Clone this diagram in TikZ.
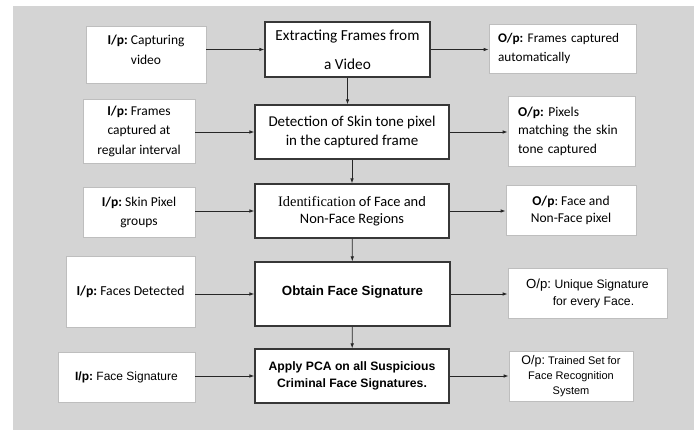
\documentclass[tikz,border=0pt]{standalone}
\usepackage{fontspec}
\setmainfont{Carlito}
\newfontfamily\arialfont{Liberation Sans}
\newfontfamily\timesfont{Liberation Serif}
\usetikzlibrary{arrows.meta}
\frenchspacing

\definecolor{bggray}{RGB}{212,212,212}
\definecolor{boxline}{RGB}{55,55,55}
\definecolor{ioline}{RGB}{190,190,190}

\tikzset{
    mainbox/.style={draw=boxline, line width=1.2pt, fill=white, inner sep=0pt, align=center},
    iobox/.style={draw=ioline, line width=0.8pt, fill=white, inner sep=0pt, align=center},
    arr/.style={-{Latex[length=5pt,width=3.6pt]}, line width=0.8pt, draw=black!85}
}

\begin{document}
\begin{tikzpicture}[x=1pt, y=-1pt]
    % background
    \fill[white] (0,0) rectangle (697,430);
    \fill[bggray] (13,6) rectangle (694,430);

    % Draw the main column
    \node[mainbox, minimum width=165pt, minimum height=55pt, font=\fontsize{15.3}{29}\selectfont] (extract) at (347.5,49.5) {Extracting Frames from\\a Video};
    \node[mainbox, minimum width=194pt, minimum height=54pt, font=\fontsize{15}{18.5}\selectfont] (skin) at (352,132) {Detection of Skin tone pixel\\in the captured frame};
    \node[mainbox, minimum width=194pt, minimum height=54pt, font=\fontsize{14.4}{17}\selectfont] (region) at (352,211) {{\timesfont Identification} of Face and\\Non-Face Regions};
    \node[mainbox, minimum width=195pt, minimum height=64pt, font=\arialfont\bfseries\fontsize{13.3}{15}\selectfont] (sign) at (352.5,294) {Obtain Face Signature\rule[-6pt]{0pt}{0pt}};
    \node[mainbox, minimum width=194pt, minimum height=54pt, font=\arialfont\bfseries\fontsize{12.2}{17}\selectfont] (pca) at (352,376) {Apply PCA on all Suspicious\\Criminal Face Signatures.};

    % Draw the inputs
    \node[iobox, minimum width=120pt, minimum height=57pt, font=\fontsize{13.5}{20}\selectfont] (in1) at (146,54.5) {\textbf{I/p:} Capturing\\video\rule[-10pt]{0pt}{0pt}};
    \node[iobox, minimum width=112pt, minimum height=64pt, font=\fontsize{13.5}{19.5}\selectfont] (in2) at (139,131) {\textbf{I/p:} Frames\\captured at\\regular interval};
    \node[iobox, minimum width=112pt, minimum height=50pt, font=\fontsize{13.5}{19}\selectfont] (in3) at (139,212) {\textbf{I/p:} Skin Pixel\\groups};
    \node[iobox, minimum width=129pt, minimum height=71pt, font=\fontsize{13.7}{15}\selectfont] (in4) at (130.5,291.5) {\textbf{I/p:} Faces Detected};
    \node[iobox, minimum width=137pt, minimum height=50pt, font=\arialfont\fontsize{12}{15}\selectfont] (in5) at (126.5,377) {\textbf{I/p:} Face Signature};

    % Draw the outputs
    \node[iobox, minimum width=147pt, minimum height=49pt, text width=129pt, align=left, font=\fontsize{13.2}{19}\selectfont] (out1) at (562.5,48.5) {\textbf{O/p:} Frames captured\\automatically};
    \node[iobox, minimum width=127pt, minimum height=70pt, text width=107pt, align=left, font=\fontsize{13.5}{18.5}\selectfont] (out2) at (571.5,131) {\textbf{O/p:} Pixels\\matching the skin\\tone captured};
    \node[iobox, minimum width=130pt, minimum height=50pt, font=\fontsize{13.5}{17}\selectfont] (out3) at (571,210) {\textbf{O/p}: Face and\\Non-Face pixel};
    \node[iobox, minimum width=159pt, minimum height=50pt, font=\arialfont\fontsize{12.2}{17}\selectfont] (out4) at (587.5,293) {{\fontsize{13.2}{17}\selectfont O/p:} Unique Signature\\\hspace*{12pt}for every Face.};
    \node[iobox, minimum width=124pt, minimum height=50pt, font=\arialfont\fontsize{11}{15}\selectfont] (out5) at (571,376) {{\fontsize{12.5}{15}\selectfont O/p:} Trained Set for\\Face Recognition\\System};

    % Draw the arrows
    \draw[arr] (extract.west -| in1.east) -- (extract.west);
    \draw[arr] (skin.west -| in2.east) -- (skin.west);
    \draw[arr] (region.west -| in3.east) -- (region.west);
    \draw[arr] (sign.west -| in4.east) -- (sign.west);
    \draw[arr] (pca.west -| in5.east) -- (pca.west);

    \draw[arr] (extract.east) -- (extract.east -| out1.west);
    \draw[arr] (skin.east) -- (skin.east -| out2.west);
    \draw[arr] (region.east) -- (region.east -| out3.west);
    \draw[arr] (sign.east) -- (sign.east -| out4.west);
    \draw[arr] (pca.east) -- (pca.east -| out5.west);

    % Draw the flow down
    \draw[arr] (extract.south) -- (extract.south |- skin.north);
    \draw[arr] (skin) -- (region);
    \draw[arr] (region) -- (sign);
    \draw[arr] (sign) -- (pca);
\end{tikzpicture}
\end{document}
